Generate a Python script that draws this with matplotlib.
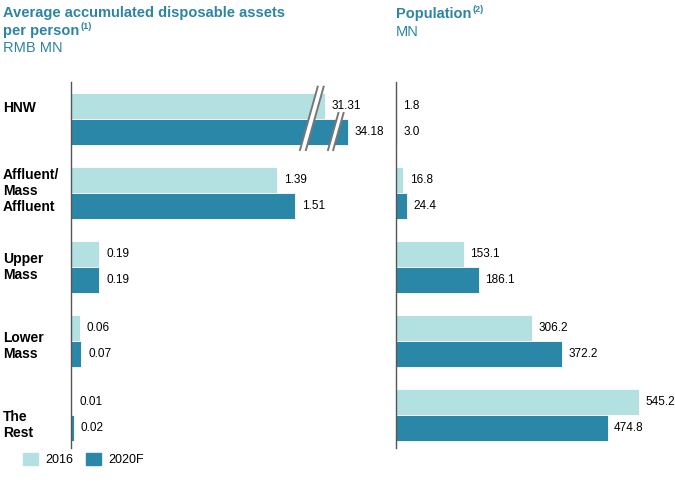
import matplotlib.pyplot as plt
from matplotlib.patches import Polygon, Patch

# --- data
categories = ["HNW", "Affluent/\nMass\nAffluent", "Upper\nMass", "Lower\nMass", "The\nRest"]
assets_2016 = [31.31, 1.39, 0.19, 0.06, 0.01]
assets_2020 = [34.18, 1.51, 0.19, 0.07, 0.02]
pop_2016 = [1.8, 16.8, 153.1, 306.2, 545.2]
pop_2020 = [3.0, 24.4, 186.1, 372.2, 474.8]
asset_labels_2016 = ["31.31", "1.39", "0.19", "0.06", "0.01"]
asset_labels_2020 = ["34.18", "1.51", "0.19", "0.07", "0.02"]
pop_labels_2016 = ["1.8", "16.8", "153.1", "306.2", "545.2"]
pop_labels_2020 = ["3.0", "24.4", "186.1", "372.2", "474.8"]

LIGHT = "#b3e0e1"
DARK = "#2b87a8"
TEAL = "#2e84a3"
plt.rcParams['font.family'] = ['Liberation Sans', 'DejaVu Sans']

W, H = 675, 492
fig = plt.figure(figsize=(W / 100, H / 100), dpi=100)


# broken axis for the HNW values, which don't fit the scale
def shown(v):
    return 0.022 + 0.054 * v if v > 5 else v


ylim = (4.45, -0.5)
bh = 0.35
pos = list(range(len(categories)))

axL = fig.add_axes([71 / W, 1 - 448 / H, 290 / W, 366 / H])
axR = fig.add_axes([396 / W, 1 - 448 / H, 270 / W, 366 / H])

for ax in (axL, axR):
    ax.set_ylim(*ylim)
    for s in ("top", "right", "bottom"):
        ax.spines[s].set_visible(False)
    ax.spines["left"].set_color("#555555")
    ax.spines["left"].set_linewidth(1.0)
    ax.set_xticks([])
    ax.set_yticks([])

axL.set_xlim(0, 290 / 148.3)
axR.set_xlim(0, 270 / 0.4457)

yA = [p - bh / 2 for p in pos]
yB = [p + bh / 2 for p in pos]

axL.barh(yA, [shown(v) for v in assets_2016], height=bh, color=LIGHT, edgecolor="white", linewidth=0.6)
axL.barh(yB, [shown(v) for v in assets_2020], height=bh, color=DARK, edgecolor="white", linewidth=0.6)
axR.barh(yA, pop_2016, height=bh, color=LIGHT, edgecolor="white", linewidth=0.6)
axR.barh(yB, pop_2020, height=bh, color=DARK, edgecolor="white", linewidth=0.6)

for y, v, t in zip(yA, assets_2016, asset_labels_2016):
    axL.annotate(t, (shown(v), y), xytext=(5, 0), textcoords="offset points",
                 va="center", ha="left", fontsize=8.5)
for y, v, t in zip(yB, assets_2020, asset_labels_2020):
    axL.annotate(t, (shown(v), y), xytext=(5, 0), textcoords="offset points",
                 va="center", ha="left", fontsize=8.5)
for y, v, t in zip(yA, pop_2016, pop_labels_2016):
    axR.annotate(t, (v, y), xytext=(4.5, 0), textcoords="offset points",
                 va="center", ha="left", fontsize=8.5)
for y, v, t in zip(yB, pop_2020, pop_labels_2020):
    axR.annotate(t, (v, y), xytext=(4.5, 0), textcoords="offset points",
                 va="center", ha="left", fontsize=8.5)


# break marks: white parallelogram with grey slanted edges
def brk(ax, xb, yb, yt, slope=0.28 * 74 / 148.3, gap=0.04):
    dx = (yb - yt) * slope
    pts = [(xb, yb), (xb + dx, yt), (xb + dx + gap, yt), (xb + gap, yb)]
    ax.add_patch(Polygon(pts, closed=True, facecolor="white", edgecolor="none", zorder=5))
    ax.plot([xb, xb + dx], [yb, yt], color="#777777", lw=1.4, zorder=6)
    ax.plot([xb + gap, xb + dx + gap], [yb, yt], color="#777777", lw=1.4, zorder=6)


brk(axL, 1.544, 0.42, -0.436)
brk(axL, 1.733, 0.42, -0.081, gap=0.035)

# category labels (pixel nudges to match the original placement)
nudge = [-11, -2, 0, 5, 10]
for p, c, n in zip(pos, categories, nudge):
    fig.text(3 / W, (axL.transData.transform((0, p))[1] - n) / H, c,
             ha="left", va="center", fontsize=10, fontweight="bold", linespacing=1.15)

# titles
fig.text(3 / W, 1 - 17 / H, "Average accumulated disposable assets",
         ha="left", va="baseline", fontsize=10.5, fontweight="bold", color=TEAL)
pp = fig.text(3 / W, 1 - 35 / H, "per person",
              ha="left", va="baseline", fontsize=10.5, fontweight="bold", color=TEAL)
fig.text(3 / W, 1 - 52 / H, "RMB MN", ha="left", va="baseline", fontsize=10.5, color=TEAL)
pop = fig.text(396 / W, 1 - 18 / H, "Population",
               ha="left", va="baseline", fontsize=10.5, fontweight="bold", color=TEAL)
fig.text(396 / W, 1 - 36 / H, "MN", ha="left", va="baseline", fontsize=10.5, color=TEAL)

fig.canvas.draw()
r = fig.canvas.get_renderer()
for t, sup, base in ((pp, "(1)", 35), (pop, "(2)", 18)):
    bb = t.get_window_extent(r)
    fig.text((bb.x1 + 1) / W, 1 - (base - 6) / H, sup, ha="left", va="baseline",
             fontsize=6.5, fontweight="bold", color=TEAL)

# legend
handles = [Patch(color=LIGHT, label="2016"), Patch(color=DARK, label="2020F")]
fig.legend(handles=handles, loc="lower left", bbox_to_anchor=(14 / W, 17 / H), ncol=2,
           frameon=False, fontsize=9, handlelength=1.2, handleheight=1.05,
           columnspacing=1.0, handletextpad=0.6, borderpad=0.2)

fig.savefig("out.png", dpi=100)
